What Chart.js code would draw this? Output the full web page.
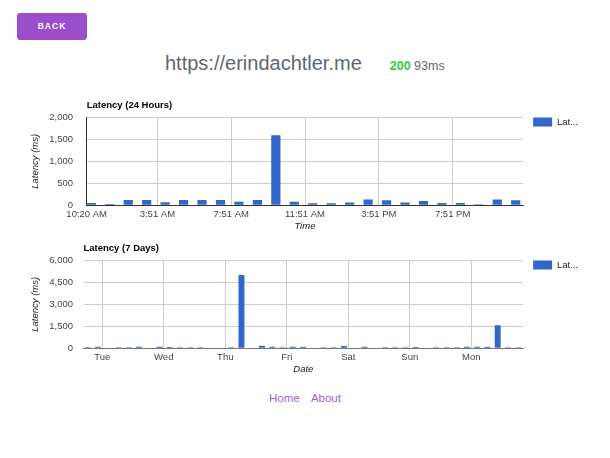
<!DOCTYPE html>
<html>
<head>
<meta charset="utf-8">
<title>erindachtler.me</title>
<script src="https://cdn.jsdelivr.net/npm/chart.js@4.4.1/dist/chart.umd.min.js"></script>
<style>
  body { margin: 0; background: #fff; font-family: 'Liberation Sans', Arial, sans-serif; }
  .back {
    position: absolute; left: 17px; top: 13px; width: 70px; height: 27px;
    background: #9c4dcc; border-radius: 3px; color: #fff; font-weight: bold;
    font-size: 8.5px; letter-spacing: 1px; line-height: 27px; text-align: center;
  }
  .site {
    position: absolute; left: 165px; top: 53px; font-size: 20px; line-height: 20px;
    color: #5f6770; white-space: nowrap;
  }
  .site .status { font-size: 12.5px; margin-left: 28px; color: #666; }
  .site .code { color: #33cc33; font-weight: bold; }
  canvas { position: absolute; left: 0; }
  #dayChart { top: 92px; }
  #weekChart { top: 235px; }
  .links {
    position: absolute; left: 0; width: 610px; top: 392px; text-align: center;
    font-size: 11.5px;
  }
  .links a { color: #9c5fcf; text-decoration: none; margin: 0 4px; }
</style>
</head>
<body>
<div class="back">BACK</div>
<div class="site">https://erindachtler.me<span class="status"><span class="code">200</span> 93ms</span></div>

<canvas id="dayChart" width="588" height="143"></canvas>
<canvas id="weekChart" width="588" height="143"></canvas>

<div class="links"><a href="#">Home</a> <a href="#">About</a></div>

<script>
// ultimas 24 horas (um ponto por hora)
const hourLatency = [50, 30, 120, 120, 70, 120, 120, 120, 80, 120, 1590, 80,
                     45, 45, 65, 130, 115, 65, 95, 50, 50, 25, 130, 115];
const hourTickAt = [-0.25, 3.58, 7.58, 11.58, 15.58, 19.58];
const hourTickLabels = ['10:20 AM', '3:51 AM', '7:51 AM', '11:51 AM', '3:51 PM', '7:51 PM'];

// ultimos 7 dias (um ponto a cada 4 horas)
const weekLatency = [70, 110, 0, 70, 70, 110, 0, 110, 90, 70, 70, 70, 0, 0, 70, 5000,
                     0, 180, 110, 70, 110, 110, 0, 70, 70, 150, 0, 110, 0, 70, 70, 70,
                     90, 0, 70, 70, 80, 110, 110, 110, 1570, 70, 70];
const dayTickAt = [1.42, 7.42, 13.42, 19.42, 25.42, 31.42, 37.42];
const dayTickLabels = ['Tue', 'Wed', 'Thu', 'Fri', 'Sat', 'Sun', 'Mon'];

Chart.defaults.font.family = "'Liberation Sans', Arial, sans-serif";
Chart.defaults.font.size = 9.5;

// sobe a legenda para alinhar com o topo do grafico
const legendNudge = {
    id: 'legendNudge',
    afterLayout(chart) {
        const lg = chart.legend;
        const shift = lg.options.labels.padding;
        lg.top -= shift;
        lg.bottom -= shift;
    }
};

function latencyChart(canvasId, cfg) {
    const canvas = document.getElementById(canvasId);
    if (!canvas) {
        console.error('Canvas ' + canvasId + ' nao encontrado');
        return;
    }
    return new Chart(canvas, {
        type: 'bar',
        data: {
            datasets: [{
                label: 'Latency',
                data: cfg.values.map((v, i) => ({ x: i, y: v })),
                backgroundColor: '#3366cc',
                barPercentage: cfg.barPct,
                categoryPercentage: 1
            }]
        },
        options: {
            responsive: false,
            animation: false,
            plugins: {
                title: {
                    display: true,
                    text: cfg.title,
                    align: 'start',
                    fullSize: false,
                    color: '#000',
                    font: { size: 9.5, weight: 'bold' },
                    padding: { top: 7.3, bottom: 6.6 }
                },
                legend: {
                    position: 'right',
                    align: 'start',
                    fullSize: false,
                    labels: {
                        boxWidth: 19,
                        boxHeight: 9,
                        padding: 10,
                        color: '#222',
                        font: { size: 9.5 },
                        generateLabels: chart => Chart.defaults.plugins.legend.labels.generateLabels(chart)
                            .map(item => ({ ...item, text: item.text.slice(0, 3) + '...' }))
                    }
                },
                tooltip: { enabled: false }
            },
            scales: {
                x: {
                    type: 'linear',
                    min: cfg.xMin,
                    max: cfg.xMax,
                    offset: false,
                    afterBuildTicks: axis => { axis.ticks = cfg.tickAt.map(v => ({ value: v })); },
                    afterFit: axis => { axis.height = 29.7; },
                    ticks: {
                        autoSkip: false,
                        maxRotation: 0,
                        padding: 3,
                        color: '#444',
                        callback: (v, i) => cfg.tickLabels[i]
                    },
                    grid: { color: '#ccc', drawTicks: false, offset: false },
                    border: { color: cfg.baseColor },
                    title: {
                        display: true,
                        text: cfg.xTitle,
                        color: '#222',
                        font: { size: 9.5, style: 'italic' },
                        padding: { top: 0, bottom: 3.3 }
                    }
                },
                y: {
                    min: 0,
                    max: cfg.yMax,
                    afterFit: axis => { axis.width = cfg.yWidth; },
                    ticks: {
                        stepSize: cfg.yStep,
                        padding: cfg.yWidth - 73,
                        color: '#444',
                        callback: v => v.toLocaleString('en-US')
                    },
                    grid: { color: '#ccc', drawTicks: false },
                    border: { display: cfg.yBorder, color: '#333' },
                    title: {
                        display: true,
                        text: 'Latency (ms)',
                        color: '#222',
                        font: { size: 9.5, style: 'italic' },
                        padding: { top: 29.3, bottom: 0 }
                    }
                }
            }
        },
        plugins: [legendNudge]
    });
}

latencyChart('dayChart', {
    title: 'Latency (24 Hours)',
    values: hourLatency,
    tickAt: hourTickAt,
    tickLabels: hourTickLabels,
    xTitle: 'Time',
    xMin: -0.25,
    xMax: 23.4,
    yMax: 2000,
    yStep: 500,
    yWidth: 86.7,
    yBorder: true,
    baseColor: '#333',
    barPct: 0.5
});

latencyChart('weekChart', {
    title: 'Latency (7 Days)',
    values: weekLatency,
    tickAt: dayTickAt,
    tickLabels: dayTickLabels,
    xTitle: 'Date',
    xMin: -0.41,
    xMax: 42.48,
    yMax: 6000,
    yStep: 1500,
    yWidth: 83.5,
    yBorder: false,
    baseColor: '#777',
    barPct: 0.58
});
</script>
</body>
</html>
